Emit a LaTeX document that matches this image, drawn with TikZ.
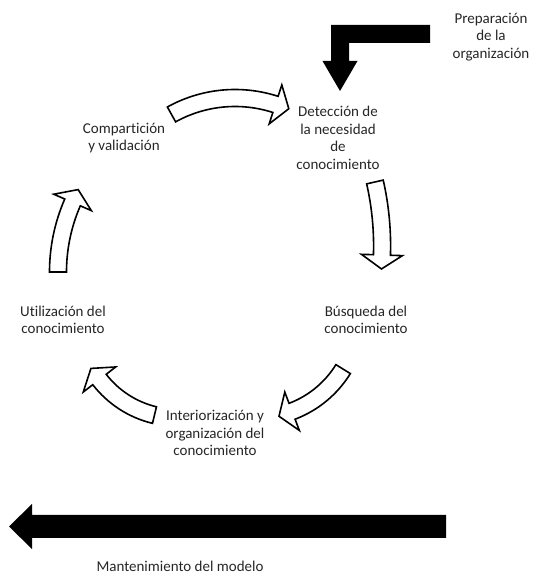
\documentclass[tikz,border=0pt]{standalone}
\usepackage{fontspec}
\setmainfont{Carlito}[Ligatures=NoCommon]
\usetikzlibrary{calc}

% curved block arrow: centre, radius, start angle, end angle
\newcommand{\cyclearrow}[4]{%
  \draw[cyclearrow] ($(#1)+({#3}:{#2+8.5})$) arc[start angle=#3, end angle=#4, radius=#2+8.5]
    -- ($(#1)+({#4}:{#2+20.5})$) -- ($(#1)+({#4}:{#2})+({#4-90}:14)$) -- ($(#1)+({#4}:{#2-20.5})$)
    -- ($(#1)+({#4}:{#2-8.5})$) arc[start angle=#4, end angle=#3, radius=#2-8.5] -- cycle;}

\begin{document}
\begin{tikzpicture}[x=1pt, y=1pt,
    stage/.style={font=\fontsize{15}{17.5}\selectfont, align=center, text=black!85},
    cyclearrow/.style={draw=black, line width=1.6pt, fill=white, line join=miter}]
        \useasboundingbox (0,0) rectangle (533,581);
        % Stages of the cycle
        \node[stage] (detect) at (338,443) {Detección de\\la necesidad\\de\\conocimiento};
        \node[stage] (search) at (366,261) {Búsqueda del\\conocimiento};
        \node[stage] (intern) at (215,148) {Interiorización y\\organización del\\conocimiento};
        \node[stage] (use) at (63,261) {Utilización del\\conocimiento};
        \node[stage] (share) at (124,443) {Compartición\\y validación};

        % Outer phases
        \node[stage] (prep) at (491,544) {Preparación\\de la\\organización};
        \node[stage] (maint) at (180,15) {Mantenimiento del modelo};

        % Curved arrows between stages
        \cyclearrow{235,352}{131}{119}{72}
        \cyclearrow{94.5,335.3}{287.6}{12.8}{-1.85}
        \cyclearrow{255.5,266}{103}{-31.7}{-69.2}
        \cyclearrow{177.5,261.8}{98.6}{256.5}{217.7}
        \cyclearrow{231.8,309}{173.8}{180}{156.4}

        % Block arrows
        \fill (430,556) -- (331,556) -- (331,520) -- (322.5,520) -- (340,490) -- (357.5,520) -- (349,520) -- (349,538) -- (430,538) -- cycle;
        \fill (446,43) -- (32,43) -- (32,32) -- (9,54.5) -- (32,77) -- (32,66) -- (446,66) -- cycle;
    \end{tikzpicture}
\end{document}
